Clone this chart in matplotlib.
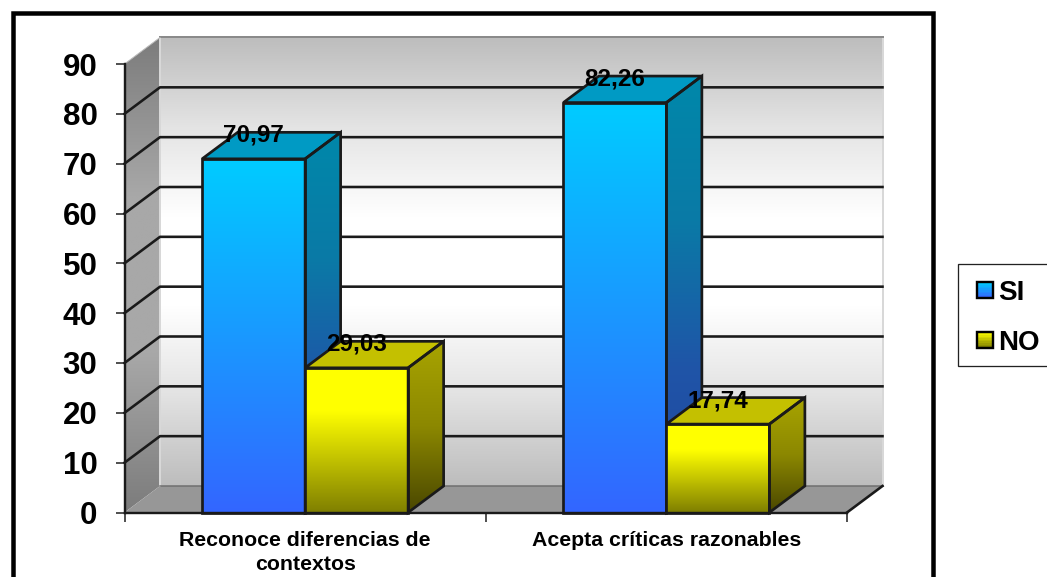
import numpy as np
import matplotlib
matplotlib.use("Agg")
import matplotlib.pyplot as plt
from matplotlib.colors import LinearSegmentedColormap, to_rgb
from matplotlib.patches import Polygon, Rectangle, Patch
from matplotlib.legend_handler import HandlerBase
from matplotlib.transforms import IdentityTransform

categories = ["Reconoce diferencias de\ncontextos", "Acepta críticas razonables"]
si_values = [70.97, 82.26]
no_values = [29.03, 17.74]
value_labels_si = ["70,97", "82,26"]
value_labels_no = ["29,03", "17,74"]
series_names = ["SI", "NO"]
y_ticks = list(range(0, 100, 10))

W, H = 1047, 577
plt.rcParams["font.family"] = ["Liberation Sans", "DejaVu Sans"]
plt.rcParams["font.weight"] = "bold"
fig = plt.figure(figsize=(W / 100, H / 100), dpi=100, facecolor="white")

L, R, T, B = 124.5, 847.0, 64.0, 512.5
ax = fig.add_axes([L / W, (H - B) / H, (R - L) / W, (B - T) / H], facecolor="none")
ax.set_xlim(0, 2)
ax.set_ylim(0, 90)
DX = 35.5 / ((R - L) / 2)
DY = 26.5 / ((B - T) / 90)
BW = 103.0 / ((R - L) / 2)
LINE = "#1a1a1a"
PX = 0.72


def grad(poly, stops, z):
    """Vertical gradient clipped to polygon; stops listed from top to bottom."""
    xs = [p[0] for p in poly]
    ys = [p[1] for p in poly]
    cmap = LinearSegmentedColormap.from_list("g", stops)
    im = ax.imshow(np.linspace(0, 1, 256)[:, None], cmap=cmap, vmin=0, vmax=1,
                   extent=[min(xs), max(xs), min(ys), max(ys)],
                   origin="upper", aspect="auto", zorder=z, interpolation="bilinear")
    pg = Polygon(poly, closed=True, transform=ax.transData, fc="none", ec="none")
    ax.add_patch(pg)
    pg.set_clip_on(False)
    im.set_clip_box(fig.bbox)
    im.set_clip_path(pg)
    return im


def outline(poly, z, color=LINE, lw=2.7):
    ax.add_patch(Polygon(poly, closed=True, fc="none", ec=color, lw=lw * PX, zorder=z,
                         clip_on=False, joinstyle="miter"))


# frame round the chart
fig.add_artist(Rectangle((12.5, -20), 920, H + 20 - 12.5, transform=IdentityTransform(),
                         fc="none", ec="black", lw=4.5 * PX))

# walls
grad([(0, 0), (DX, DY), (DX, 90 + DY), (0, 90)],
     ["#7c7c7c", "#a8a8a8", "#a8a8a8", "#7c7c7c"], 1)
grad([(DX, DY), (2 + DX, DY), (2 + DX, 90 + DY), (DX, 90 + DY)],
     ["#bdbdbd", "#e4e4e4", "#ffffff", "#ffffff", "#e2e2e2", "#bdbdbd"], 1)
ax.add_patch(Polygon([(0, 0), (2, 0), (2 + DX, DY), (DX, DY)], closed=True,
                     fc="#979797", ec="none", zorder=1.5, clip_on=False))

# wall edges
ax.plot([DX, DX], [DY, 90 + DY], color="#d8d8d8", lw=2 * PX, zorder=2, clip_on=False)
ax.plot([2 + DX, 2 + DX], [DY, 90 + DY], color="#d8d8d8", lw=2 * PX, zorder=2, clip_on=False)
ax.plot([DX, 2 + DX], [90 + DY, 90 + DY], color="#8a8a8a", lw=2 * PX, zorder=2, clip_on=False)
ax.plot([DX, 2 + DX], [DY, DY], color="#6e6e6e", lw=1.5 * PX, zorder=2, clip_on=False)

# gridlines
for v in y_ticks[1:-1]:
    ax.plot([0, DX, 2 + DX], [v, v + DY, v + DY], color=LINE, lw=2.6 * PX, zorder=3, clip_on=False)
ax.plot([2, 2 + DX], [0, DY], color=LINE, lw=2.6 * PX, zorder=3, clip_on=False)
ax.plot([0, DX], [90, 90 + DY], color="#bbbbbb", lw=1 * PX, zorder=3, clip_on=False)


def bar3d(x0, v, front, side, top, z):
    x1 = x0 + BW
    grad([(x0, 0), (x1, 0), (x1, v), (x0, v)], front, z)
    s = [(x1, 0), (x1 + DX, DY), (x1 + DX, v + DY), (x1, v)]
    grad(s, side, z)
    t = [(x0, v), (x1, v), (x1 + DX, v + DY), (x0 + DX, v + DY)]
    ax.add_patch(Polygon(t, closed=True, fc=top, ec="none", zorder=z, clip_on=False))
    outline([(x0, 0), (x1, 0), (x1, v), (x0, v)], z + 0.1)
    outline(s, z + 0.1)
    outline(t, z + 0.1)


SI_FRONT = ["#00ccff", "#3366ff"]
SI_SIDE = ["#0088aa", "#0a7aa6", "#1f55a8", "#22449e"]
NO_FRONT = [(0, "#ffff00"), (0.3, "#ffff00"), (1, "#808000")]
NO_SIDE = ["#a8a400", "#8c8800", "#4a4700"]

for i in range(len(categories)):
    c = i + 0.5
    z = 4 + i
    bar3d(c - BW, si_values[i], SI_FRONT, SI_SIDE, "#009ac4", z)
    bar3d(c, no_values[i], NO_FRONT, NO_SIDE, "#c4c000", z + 0.3)
    ax.text(c - BW / 2, si_values[i] + 4.7, value_labels_si[i], ha="center", va="center",
            fontsize=17.5, fontweight="bold", color="black", zorder=10)
    ax.text(c + BW / 2, no_values[i] + 4.7, value_labels_no[i], ha="center", va="center",
            fontsize=17.5, fontweight="bold", color="black", zorder=10)

# axes
for s in ("top", "right"):
    ax.spines[s].set_visible(False)
for s in ("left", "bottom"):
    ax.spines[s].set_linewidth(2.4 * PX)
    ax.spines[s].set_color(LINE)
    ax.spines[s].set_zorder(9)
ax.set_yticks(y_ticks)
ax.set_yticklabels([str(v) for v in y_ticks], fontsize=22.5, fontweight="bold")
ax.tick_params(axis="y", length=9 * PX, width=1.5 * PX, pad=13, color=LINE)
ax.set_xticks([0, 1, 2])
ax.set_xticklabels(["", "", ""])
ax.tick_params(axis="x", which="major", length=9 * PX, width=1.5 * PX, color=LINE)
ax.set_xticks([0.5, 1.5], minor=True)
ax.set_xticklabels(categories, minor=True, fontsize=15.3, fontweight="bold", linespacing=1.35)
ax.tick_params(axis="x", which="minor", length=0, pad=13)
ax.set_xlim(0, 2)
ax.set_ylim(0, 90)


class GradHandler(HandlerBase):
    def __init__(self, top, bottom):
        super().__init__()
        self.top, self.bottom = to_rgb(top), to_rgb(bottom)

    def create_artists(self, legend, orig, xd, yd, width, height, fontsize, trans):
        side = 11.5
        x0 = 2.9 - xd
        y0 = (height - side) / 2 - yd
        out = []
        n = 10
        for k in range(n):
            f = k / (n - 1)
            col = tuple(self.top[j] * (1 - f) + self.bottom[j] * f for j in range(3))
            out.append(Rectangle((x0, y0 + side * (1 - (k + 1) / n)), side, side / n + 0.3,
                                 fc=col, ec="none", transform=trans))
        out.append(Rectangle((x0, y0), side, side, fc="none", ec="black", lw=2.4 * PX, transform=trans))
        return out


# legend box, open at the right edge of the picture
fig.add_artist(Rectangle((957.5, H - 365.5), 120, 101.5, transform=IdentityTransform(),
                         fc="white", ec="#222222", lw=1.3 * PX))
h_si = Patch(label=series_names[0])
h_no = Patch(label=series_names[1])
leg = fig.legend(handles=[h_si, h_no], labels=series_names, loc="upper left",
                 bbox_to_anchor=(957 / W, (H - 264) / H), borderaxespad=0,
                 handler_map={h_si: GradHandler("#00ccff", "#3366ff"),
                              h_no: GradHandler("#ffff00", "#808000")},
                 prop={"family": "Liberation Sans", "weight": "bold", "size": 20},
                 frameon=False,
                 handlelength=0.7, handletextpad=0.2, labelspacing=0.86,
                 borderpad=0.58)

fig.savefig("out.png", dpi=100)
